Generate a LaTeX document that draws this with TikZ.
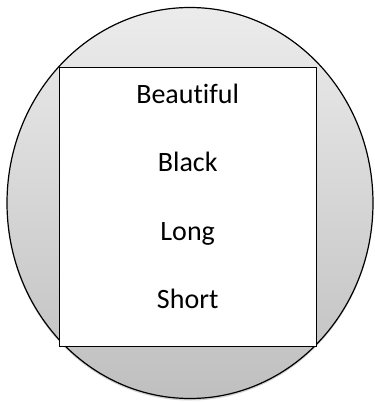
\documentclass[tikz,border=0pt]{standalone}
\usepackage{fontspec}
\setmainfont{Carlito}[Ligatures=NoCommon]
\usetikzlibrary{positioning,shapes.geometric,shadows}

\begin{document}
\begin{tikzpicture}[x=1pt,y=-1pt,node distance=44pt,disc/.style={ellipse,draw,line width=1.2pt,minimum width=366pt,minimum height=391pt,inner sep=0pt,top color=gray!15,bottom color=gray!50,drop shadow={shadow xshift=0pt,shadow yshift=-2pt,opacity=0.35}},frame/.style={draw,fill=white,line width=0.8pt,minimum width=257pt,minimum height=279pt,inner sep=0pt},word/.style={font=\fontsize{28}{32}\selectfont,text height=18pt,text depth=6pt,inner sep=0pt}]
\useasboundingbox (0,0) rectangle (375,402);
\node[disc] (disc) at (190,203) {};
\node[frame] (frame) at (187.7,207) {};
\node[word,anchor=base] (beautiful) at (187.7,103.3) {Beautiful};
\node[word,below=of beautiful] (black) {Black};
\node[word,below=of black] (long) {Long};
\node[word,below=of long] (short) {Short};
\end{tikzpicture}
\end{document}
